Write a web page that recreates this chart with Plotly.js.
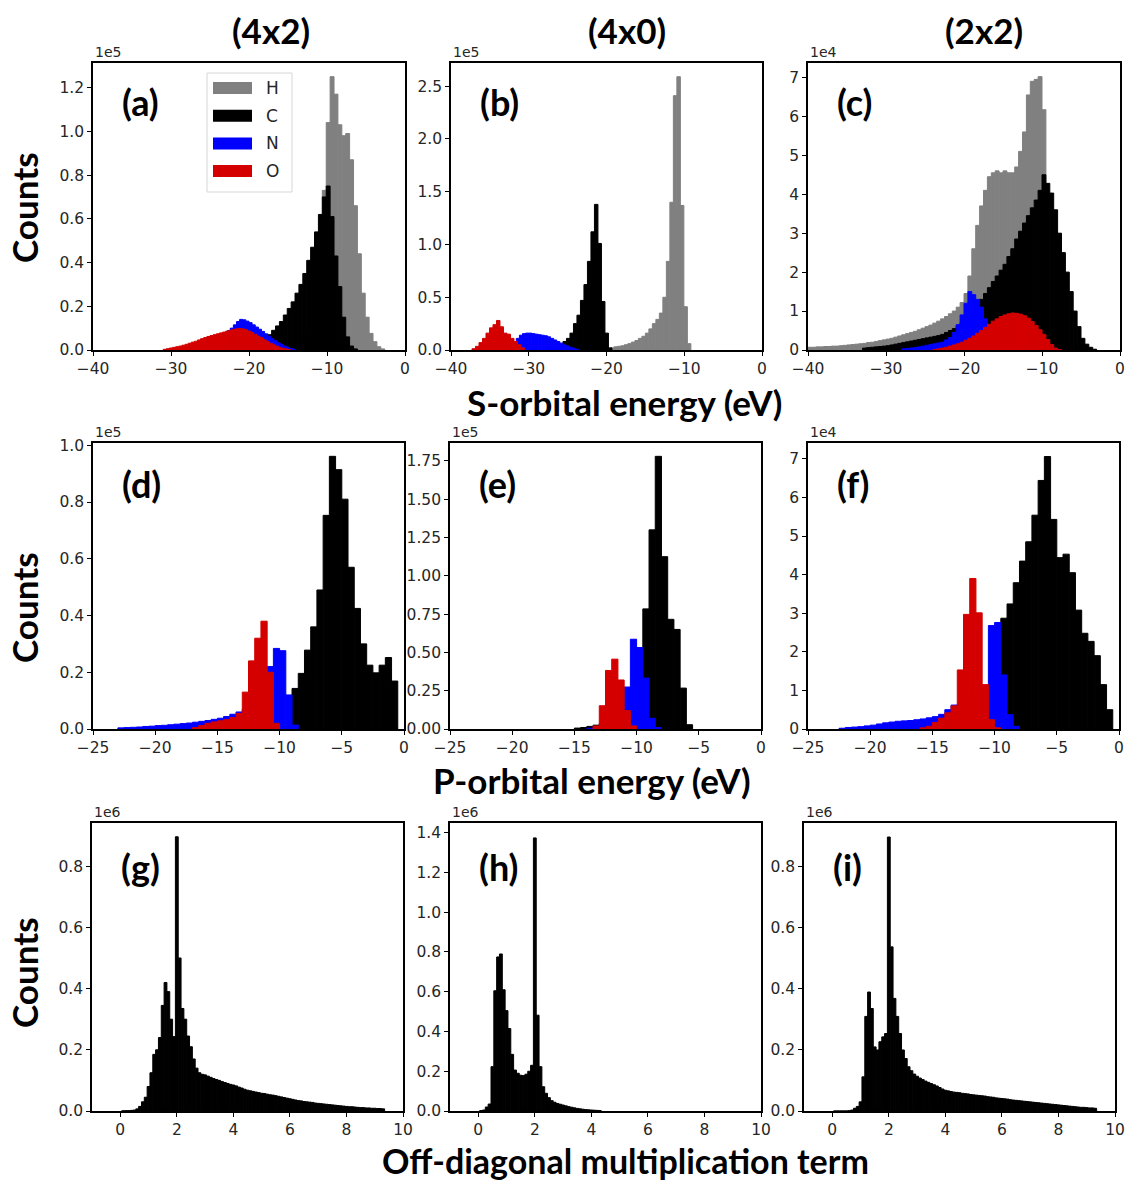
<!DOCTYPE html>
<html>
<head>
<meta charset="utf-8">
<script src="https://cdn.plot.ly/plotly-3.0.1.min.js"></script>
<style>
  html, body { margin: 0; padding: 0; background: #fff; }
  #chart { width: 1127px; height: 1185px; }
</style>
</head>
<body>
<div id="chart"></div>
<script>
// ---------------- data ----------------
// Element order is also the drawing order (later series sit on top).
const elements = ['H', 'C', 'N', 'O'];
const elementColors = { H: '#808080', C: '#000000', N: '#0000ff', O: '#d40000' };

const columnTitles = ['(4x2)', '(4x0)', '(2x2)'];
const rowTitles = ['S-orbital energy (eV)', 'P-orbital energy (eV)', 'Off-diagonal multiplication term'];
const panelLabels = ['(a)', '(b)', '(c)', '(d)', '(e)', '(f)', '(g)', '(h)', '(i)'];
const offsetLabels = ['1e5', '1e5', '1e4', '1e5', '1e5', '1e4', '1e6', '1e6', '1e6'];

// Histogram bins: [first edge, bin width]; counts are in units of the offset label.
// (a) S-orbital, 4x2
const binsA = { H: [-16.1, 0.5], C: [-17.6, 0.5], N: [-30.0, 0.4], O: [-31.0, 0.4] };
const countsA_H = [0.005, 0.008, 0.012, 0.018, 0.025, 0.035, 0.05, 0.07, 0.1, 0.16, 0.35, 0.73, 1.04, 1.25,
  1.17, 1.03, 0.98, 0.99, 0.87, 0.66, 0.44, 0.26, 0.15, 0.076, 0.038, 0.015, 0.005];
const countsA_C = [0.07, 0.09, 0.11, 0.13, 0.16, 0.19, 0.22, 0.26, 0.30, 0.35, 0.41, 0.47, 0.54, 0.62, 0.70, 0.75,
  0.61, 0.43, 0.29, 0.15, 0.06, 0.018, 0.005];
const countsA_N = [0.002, 0.004, 0.006, 0.008, 0.01, 0.013, 0.016, 0.02, 0.024, 0.028, 0.033, 0.038, 0.044, 0.05,
  0.056, 0.063, 0.07, 0.078, 0.088, 0.1, 0.115, 0.13, 0.14, 0.138, 0.132, 0.125, 0.115, 0.105, 0.095, 0.085,
  0.074, 0.063, 0.052, 0.042, 0.033, 0.025, 0.018, 0.012, 0.007, 0.003];
const countsA_O = [0.003, 0.006, 0.009, 0.012, 0.015, 0.018, 0.022, 0.026, 0.031, 0.036, 0.04, 0.046, 0.052, 0.057,
  0.062, 0.066, 0.07, 0.074, 0.078, 0.082, 0.086, 0.09, 0.094, 0.097, 0.098, 0.097, 0.093, 0.087, 0.08, 0.072,
  0.064, 0.056, 0.047, 0.039, 0.031, 0.024, 0.018, 0.012, 0.008, 0.005, 0.002];

// (b) S-orbital, 4x0
const binsB = { H: [-19.5, 0.45], C: [-26.5, 0.45], N: [-32.4, 0.4], O: [-37.3, 0.45] };
const countsB_H = [0.02, 0.03, 0.035, 0.04, 0.05, 0.06, 0.075, 0.09, 0.11, 0.13, 0.16, 0.2, 0.25, 0.29, 0.35, 0.5,
  0.84, 1.4, 2.41, 2.59, 1.37, 0.41, 0.06];
const countsB_C = [0.02, 0.05, 0.08, 0.11, 0.16, 0.25, 0.33, 0.47, 0.62, 0.84, 1.12, 1.38, 1.01, 0.46, 0.16, 0.02];
const countsB_N = [0.03, 0.07, 0.11, 0.14, 0.155, 0.16, 0.16, 0.155, 0.15, 0.145, 0.14, 0.135, 0.125, 0.11, 0.095,
  0.08, 0.065, 0.05, 0.038, 0.027, 0.017, 0.008];
const countsB_O = [0.012, 0.035, 0.07, 0.11, 0.16, 0.21, 0.24, 0.28, 0.22, 0.16, 0.15, 0.11, 0.08, 0.05, 0.02];

// (c) S-orbital, 2x2
const binsC = { H: [-40.0, 0.5], C: [-33.0, 0.5], N: [-28.0, 0.5], O: [-24.0, 0.5] };
const countsC_H = [0.07, 0.07, 0.08, 0.08, 0.09, 0.09, 0.1, 0.1, 0.11, 0.12,
  0.13, 0.14, 0.15, 0.16, 0.17, 0.19, 0.2, 0.22, 0.24, 0.26,
  0.28, 0.3, 0.33, 0.36, 0.39, 0.42, 0.45, 0.48, 0.52, 0.56,
  0.6, 0.64, 0.69, 0.74, 0.8, 0.86, 0.93, 1.0, 1.1, 1.22,
  1.45, 1.9, 2.6, 3.2, 3.7, 4.1, 4.45, 4.55, 4.6, 4.55,
  4.6, 4.55, 4.55, 4.7, 5.1, 5.6, 6.55, 6.9, 6.95, 7.02,
  6.17];
const countsC_C = [0.05, 0.06, 0.07, 0.08, 0.09, 0.1, 0.11, 0.13, 0.15, 0.17,
  0.19, 0.21, 0.23, 0.25, 0.27, 0.29, 0.31, 0.33, 0.35, 0.37,
  0.4, 0.45, 0.5, 0.55, 0.62, 0.7, 0.8, 0.9, 1.0, 1.12,
  1.3, 1.45, 1.6, 1.76, 1.9, 2.05, 2.2, 2.4, 2.6, 2.85,
  3.05, 3.26, 3.45, 3.65, 3.85, 4.1, 4.5, 4.28, 4.03, 3.6,
  3.0, 2.5, 2.0, 1.5, 1.0, 0.6, 0.3, 0.15, 0.07, 0.02];
const countsC_N = [0.03, 0.04, 0.05, 0.06, 0.08, 0.1, 0.12, 0.14, 0.16, 0.18, 0.2, 0.26, 0.32, 0.45, 0.65, 0.9,
  1.2, 1.5, 1.42, 1.3, 1.1, 0.8, 0.5, 0.3, 0.18, 0.1, 0.05, 0.02];
const countsC_O = [0.01, 0.03, 0.05, 0.07, 0.1, 0.13, 0.16, 0.2, 0.25, 0.3, 0.36, 0.43, 0.5, 0.58, 0.66, 0.74, 0.8,
  0.86, 0.9, 0.93, 0.95, 0.94, 0.92, 0.88, 0.82, 0.73, 0.63, 0.52, 0.4, 0.27, 0.14, 0.05, 0.01];

// (d) P-orbital, 4x2
const binsD = { C: [-9.0, 0.5], N: [-23.0, 0.5], O: [-17.0, 0.5] };
const countsD_C = [0.143, 0.196, 0.278, 0.36, 0.49, 0.753, 0.961, 0.914, 0.81, 0.57, 0.425, 0.30, 0.225, 0.198,
  0.225, 0.252, 0.169];
const countsD_N = [0.004, 0.005, 0.006, 0.007, 0.009, 0.01, 0.012, 0.013, 0.015, 0.017, 0.019, 0.021, 0.024, 0.027,
  0.03, 0.034, 0.038, 0.044, 0.052, 0.06, 0.07, 0.09, 0.12, 0.17, 0.22, 0.284, 0.276, 0.12, 0.014];
const countsD_O = [0.005, 0.012, 0.02, 0.025, 0.029, 0.033, 0.04, 0.055, 0.13, 0.24, 0.32, 0.38, 0.2, 0.02];

// (e) P-orbital, 4x0
const binsE = { C: [-15.0, 0.5], N: [-14.0, 0.5], O: [-13.5, 0.5] };
const countsE_C = [0.006, 0.01, 0.017, 0.025, 0.035, 0.05, 0.07, 0.1, 0.14, 0.2, 0.3, 0.784, 1.3, 1.78, 1.125,
  0.716, 0.65, 0.267, 0.028];
const countsE_N = [0.005, 0.012, 0.03, 0.06, 0.1, 0.16, 0.274, 0.586, 0.532, 0.332, 0.07, 0.01];
const countsE_O = [0.02, 0.152, 0.382, 0.456, 0.32, 0.12, 0.02];

// (f) P-orbital, 2x2
const binsF = { C: [-9.5, 0.5], N: [-22.5, 0.5], O: [-16.0, 0.5] };
const countsF_C = [2.87, 3.24, 3.79, 4.35, 4.85, 5.54, 6.44, 7.06, 5.43, 4.44, 4.53, 4.05, 3.08, 2.48, 2.27, 1.9,
  1.15, 0.5];
const countsF_N = [0.02, 0.04, 0.05, 0.06, 0.08, 0.1, 0.13, 0.16, 0.18, 0.2, 0.21, 0.22, 0.24, 0.26, 0.29, 0.32,
  0.38, 0.5, 0.62, 0.65, 0.8, 0.9, 0.95, 1.0, 2.68, 2.76, 1.4, 0.37, 0.07];
const countsF_O = [0.03, 0.07, 0.17, 0.28, 0.42, 0.6, 1.53, 2.97, 3.9, 3.01, 1.15, 0.24, 0.03];

// (g)-(i) off-diagonal multiplication term
const binsG = [0.05, 0.1];
const countsG = [0.0005, 0.001, 0.001, 0.002, 0.003, 0.007, 0.015, 0.03, 0.045, 0.08,
  0.125, 0.185, 0.2, 0.24, 0.345, 0.42, 0.39, 0.3, 0.243, 0.896,
  0.5, 0.335, 0.3, 0.245, 0.21, 0.17, 0.14, 0.125, 0.12,
  0.118, 0.114, 0.11, 0.106, 0.103, 0.1, 0.096, 0.093, 0.09, 0.087,
  0.085, 0.082, 0.078, 0.075, 0.071, 0.068, 0.066, 0.064, 0.062, 0.06,
  0.058, 0.057, 0.055, 0.053, 0.052, 0.05, 0.048, 0.046, 0.044, 0.042,
  0.04, 0.038, 0.036, 0.034, 0.033, 0.031, 0.03, 0.029, 0.028, 0.026,
  0.025, 0.024, 0.023, 0.022, 0.021, 0.02, 0.019, 0.018, 0.017, 0.016,
  0.015, 0.014, 0.014, 0.013, 0.012, 0.011, 0.011, 0.01, 0.01, 0.009,
  0.009, 0.008, 0.008, 0.007];
const binsH = [0.05, 0.1];
const countsH = [0.002, 0.005, 0.02, 0.035, 0.223, 0.605, 0.775, 0.79, 0.61, 0.505,
  0.415, 0.285, 0.206, 0.19, 0.18, 0.178, 0.185, 0.2, 0.23, 1.374,
  0.482, 0.223, 0.122, 0.089, 0.067, 0.052, 0.044, 0.038, 0.034, 0.03,
  0.026, 0.022, 0.019, 0.016, 0.013, 0.011, 0.009, 0.007, 0.006, 0.005,
  0.004, 0.003, 0.002];
const binsI = [0.05, 0.1];
const countsI = [0, 0, 0, 0, 0, 0.001, 0.003, 0.009, 0.015, 0.03,
  0.112, 0.31, 0.39, 0.336, 0.21, 0.2, 0.227, 0.243, 0.254, 0.898,
  0.538, 0.369, 0.31, 0.254, 0.2, 0.172, 0.145, 0.132, 0.121,
  0.114, 0.108, 0.103, 0.098, 0.094, 0.09, 0.086, 0.082, 0.077, 0.072,
  0.068, 0.066, 0.064, 0.062, 0.061, 0.06, 0.058, 0.057, 0.056, 0.054,
  0.053, 0.052, 0.051, 0.05, 0.049, 0.047, 0.046, 0.045, 0.043, 0.042,
  0.041, 0.04, 0.039, 0.037, 0.036, 0.035, 0.034, 0.033, 0.032, 0.031,
  0.03, 0.029, 0.028, 0.027, 0.026, 0.025, 0.024, 0.023, 0.022, 0.021,
  0.02, 0.019, 0.018, 0.017, 0.016, 0.015, 0.014, 0.013, 0.012, 0.012,
  0.011, 0.01, 0.01, 0.009];

// ---------------- figure ----------------
const W = 1127, H = 1185;
const px = v => v / W;
const py = v => 1 - v / H;

// plot-area boxes in pixels: [left, right, top, bottom]
const boxes = [
  [93, 405, 63, 350], [451, 762, 63, 350], [808, 1120, 63, 350],
  [93, 404, 443, 729], [450, 761, 443, 729], [808, 1119, 443, 729],
  [92, 403, 823, 1111], [450, 761, 823, 1111], [804, 1115, 823, 1111]
];

const panels = [
  { series: [['H', binsA.H, countsA_H], ['C', binsA.C, countsA_C], ['N', binsA.N, countsA_N], ['O', binsA.O, countsA_O]],
    xr: [-40, 0], xd: 10, yr: [0, 1.3125], yd: 0.2, yf: '.1f' },
  { series: [['H', binsB.H, countsB_H], ['C', binsB.C, countsB_C], ['N', binsB.N, countsB_N], ['O', binsB.O, countsB_O]],
    xr: [-40, 0], xd: 10, yr: [0, 2.72], yd: 0.5, yf: '.1f' },
  { series: [['H', binsC.H, countsC_H], ['C', binsC.C, countsC_C], ['N', binsC.N, countsC_N], ['O', binsC.O, countsC_O]],
    xr: [-40, 0], xd: 10, yr: [0, 7.37], yd: 1, yf: 'd' },
  { series: [['C', binsD.C, countsD_C], ['N', binsD.N, countsD_N], ['O', binsD.O, countsD_O]],
    xr: [-25, 0], xd: 5, yr: [0, 1.008], yd: 0.2, yf: '.1f' },
  { series: [['C', binsE.C, countsE_C], ['N', binsE.N, countsE_N], ['O', binsE.O, countsE_O]],
    xr: [-25, 0], xd: 5, yr: [0, 1.867], yd: 0.25, yf: '.2f' },
  { series: [['C', binsF.C, countsF_C], ['N', binsF.N, countsF_N], ['O', binsF.O, countsF_O]],
    xr: [-25, 0], xd: 5, yr: [0, 7.41], yd: 1, yf: 'd' },
  { series: [['C', binsG, countsG]], xr: [-1, 10], xd: 2, yr: [0, 0.941], yd: 0.2, yf: '.1f' },
  { series: [['C', binsH, countsH]], xr: [-1, 10], xd: 2, yr: [0, 1.449], yd: 0.2, yf: '.1f' },
  { series: [['C', binsI, countsI]], xr: [-1, 10], xd: 2, yr: [0, 0.944], yd: 0.2, yf: '.1f' }
];

const tickFont = { family: 'DejaVu Sans', size: 15.5, color: '#262626' };
const boldFont = (size) => ({ family: 'Lato, "Open Sans", sans-serif', size: size, color: '#000', weight: 700 });

const traces = [];
const layout = {
  width: W, height: H,
  margin: { l: 0, r: 0, t: 0, b: 0 },
  paper_bgcolor: '#fff', plot_bgcolor: '#fff',
  showlegend: false,
  barmode: 'overlay', bargap: 0,
  annotations: [], shapes: []
};

panels.forEach((p, i) => {
  const n = i + 1;
  const suffix = n === 1 ? '' : String(n);
  const [l, r, t, b] = boxes[i];

  p.series.forEach(([el, bin, counts]) => {
    const [edge0, width] = bin;
    traces.push({
      type: 'bar',
      x: counts.map((_, k) => edge0 + width * (k + 0.5)),
      y: counts,
      width: width,
      name: el,
      marker: { color: elementColors[el], line: { color: elementColors[el], width: 1 } },
      xaxis: 'x' + suffix, yaxis: 'y' + suffix,
      hoverinfo: 'x+y'
    });
  });

  const common = {
    showline: true, mirror: true, linecolor: '#000', linewidth: 1.8,
    ticks: 'outside', ticklen: 4, tickwidth: 1, tickcolor: '#000',
    showgrid: false, zeroline: false, tickfont: tickFont,
    ticklabeloverflow: 'allow'
  };
  layout['xaxis' + suffix] = Object.assign({}, common, {
    domain: [px(l), px(r)], range: p.xr, dtick: p.xd, tick0: 0,
    anchor: 'y' + suffix
  });
  layout['yaxis' + suffix] = Object.assign({}, common, {
    domain: [py(b), py(t)], range: p.yr, dtick: p.yd, tick0: 0, tickformat: p.yf,
    anchor: 'x' + suffix
  });

  // offset multiplier above the top-left corner
  layout.annotations.push({
    xref: 'paper', yref: 'paper', x: px(l), y: py(t - 1),
    xanchor: 'left', yanchor: 'bottom', showarrow: false,
    text: offsetLabels[i], font: { family: 'DejaVu Sans', size: 14, color: '#262626' }
  });
  // panel letter
  const labelDy = i < 3 ? 39 : (i < 6 ? 41 : 44);
  layout.annotations.push({
    xref: 'paper', yref: 'paper', x: px(l + 27), y: py(t + labelDy),
    xanchor: 'left', yanchor: 'middle', showarrow: false,
    text: panelLabels[i], font: boldFont(36)
  });
});

// column headings
const colCenters = [271, 627, 984];
columnTitles.forEach((txt, c) => {
  layout.annotations.push({
    xref: 'paper', yref: 'paper', x: px(colCenters[c]), y: py(30),
    xanchor: 'center', yanchor: 'middle', showarrow: false,
    text: txt, font: boldFont(35)
  });
});

// row axis titles and "Counts" labels
const rowTitleX = [624, 592, 625];
const rowTitleY = [402, 780, 1160];
const countsY = [208, 608, 973];
rowTitles.forEach((txt, r) => {
  layout.annotations.push({
    xref: 'paper', yref: 'paper', x: px(rowTitleX[r]), y: py(rowTitleY[r]),
    xanchor: 'center', yanchor: 'middle', showarrow: false,
    text: txt, font: boldFont(r === 2 ? 34 : 35)
  });
  layout.annotations.push({
    xref: 'paper', yref: 'paper', x: px(24), y: py(countsY[r]),
    xanchor: 'center', yanchor: 'middle', showarrow: false, textangle: -90,
    text: 'Counts', font: boldFont(35)
  });
});

// element key inside panel (a)
layout.shapes.push({
  type: 'rect', xref: 'paper', yref: 'paper',
  x0: px(207), x1: px(292), y0: py(192), y1: py(73),
  line: { color: '#d6d6d6', width: 1 }, fillcolor: 'rgba(255,255,255,0.85)', layer: 'above'
});
elements.forEach((el, k) => {
  const yc = 88 + k * 27.7;
  layout.shapes.push({
    type: 'rect', xref: 'paper', yref: 'paper',
    x0: px(213), x1: px(252), y0: py(yc + 6), y1: py(yc - 6),
    line: { width: 0 }, fillcolor: elementColors[el], layer: 'above'
  });
  layout.annotations.push({
    xref: 'paper', yref: 'paper', x: px(264), y: py(yc),
    xanchor: 'left', yanchor: 'middle', showarrow: false,
    text: el, font: { family: 'DejaVu Sans', size: 17, color: '#262626' }
  });
});

Plotly.newPlot('chart', traces, layout, { staticPlot: true, displayModeBar: false });
</script>
</body>
</html>
